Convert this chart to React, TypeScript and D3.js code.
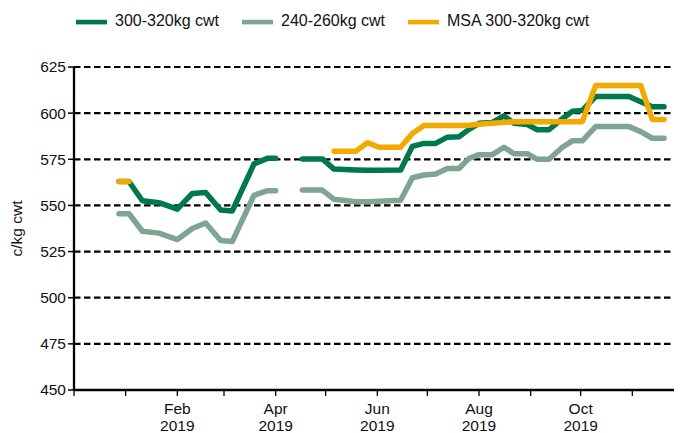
import React from "react";
import * as d3 from "d3";

const dates: string[] = [
  "2018-12-28", "2019-01-03", "2019-01-11", "2019-01-21", "2019-02-01", "2019-02-10",
  "2019-02-18", "2019-02-27", "2019-03-06", "2019-03-19", "2019-03-27", "2019-04-01",
  "2019-04-09", "2019-04-17", "2019-04-29", "2019-05-06", "2019-05-19", "2019-05-26",
  "2019-06-02", "2019-06-15", "2019-06-22", "2019-06-29", "2019-07-06", "2019-07-13",
  "2019-07-20", "2019-07-26", "2019-08-01", "2019-08-09", "2019-08-16", "2019-08-22",
  "2019-08-30", "2019-09-05", "2019-09-12", "2019-09-20", "2019-09-26", "2019-10-02",
  "2019-10-10", "2019-10-17", "2019-10-23", "2019-10-30", "2019-11-06", "2019-11-13",
  "2019-11-20",
];

const heavy: (number | null)[] = [
  563, 563, 552.5, 551.5, 548, 556.5,
  557, 547.5, 547, 572.5, 575.5, 575.5,
  null, 575.2, 575.2, 569.7, 569.2, 569,
  569, 569.2, 582, 583.6, 583.6, 587,
  587.2, 591.2, 594.5, 595, 598.5, 594.5,
  593.8, 591, 591, 597, 601, 601.5,
  609, 609, 609, 609, 606.2, 603.5,
  603.5,
];

const light: (number | null)[] = [
  545.5, 545.5, 536, 535, 531.5, 537.5,
  540.5, 531, 530.5, 555.5, 558, 558,
  null, 558.3, 558.3, 553.3, 552, 552,
  552.3, 552.8, 565, 566.5, 567, 570,
  570, 575.5, 577.5, 577.5, 581.5, 578,
  578, 575, 575, 581.5, 585, 585,
  592.7, 592.7, 592.7, 592.7, 590, 586.4,
  586.4,
];

const msa: (number | null)[] = [
  563, 563, null, null, null, null,
  null, null, null, null, null, null,
  null, null, null, 579.3, 579.3, 584,
  581.5, 581.5, 589, 593.3, 593.3, 593.3,
  593.3, 593.5, 594, 594.5, 595, 595.4,
  595.4, 595.4, 595.4, 595.4, 595.4, 595.4,
  615, 615, 615, 615, 615, 596.6,
  596.6,
];

const seriesNames = ["300-320kg cwt", "240-260kg cwt", "MSA 300-320kg cwt"];
const seriesColors = ["#00794A", "#7FA491", "#F2AA00"];
const yTicks = [450, 475, 500, 525, 550, 575, 600, 625];
const xDomain = ["2018-12-01", "2019-11-26"];
const labelMonths = [1, 3, 5, 7, 9];

const W = 680;
const H = 433;
const M = { left: 74, right: 6, top: 67, bottom: 43 };

export default function App() {
  const parse = d3.utcParse("%Y-%m-%d");
  const x = d3
    .scaleUtc()
    .domain(xDomain.map((d) => parse(d) as Date))
    .range([M.left, W - M.right]);
  const y = d3.scaleLinear().domain([450, 625]).range([H - M.bottom, M.top]);
  const pts = dates.map((d) => parse(d) as Date);
  const all = [heavy, light, msa];

  const line = d3
    .line<number | null>()
    .defined((d) => d != null)
    .x((_, i) => x(pts[i]))
    .y((d) => y(d as number));

  const months = d3.utcMonth.range(parse(xDomain[0]) as Date, parse(xDomain[1]) as Date);
  const font = "Liberation Sans, Arial, sans-serif";

  const legendX = [76, 242, 408];

  return (
    <svg
      width={W}
      height={H}
      style={{ position: "absolute", left: 0, top: 0, background: "#fff" }}
      fontFamily={font}
    >
      {/* legend */}
      {seriesNames.map((n, i) => (
        <g key={n}>
          <rect x={legendX[i]} y={19.8} width={31} height={4.6} fill={seriesColors[i]} />
          <text x={legendX[i] + 39} y={26.3} fontSize={16} fill="#111">
            {n}
          </text>
        </g>
      ))}

      {/* gridlines */}
      {yTicks
        .filter((t) => t !== 450)
        .map((t) => (
          <line
            key={t}
            x1={M.left}
            x2={W - M.right}
            y1={y(t)}
            y2={y(t)}
            stroke="#000"
            strokeWidth={2.2}
            strokeDasharray="6.5,3.5"
          />
        ))}

      {/* y axis */}
      <line x1={M.left} x2={M.left} y1={M.top} y2={H - M.bottom} stroke="#000" strokeWidth={2.3} />
      {yTicks.map((t) => (
        <g key={t}>
          <line x1={M.left - 6} x2={M.left} y1={y(t)} y2={y(t)} stroke="#000" strokeWidth={1.5} />
          <text x={M.left - 8} y={y(t)} dy="0.35em" textAnchor="end" fontSize={15.5} fill="#111">
            {t}
          </text>
        </g>
      ))}
      <text
        transform={`translate(${22},${(M.top + H - M.bottom) / 2}) rotate(-90)`}
        textAnchor="middle"
        fontSize={15.5}
        fill="#111"
      >
        c/kg cwt
      </text>

      {/* x axis */}
      <line x1={M.left} x2={W - M.right} y1={H - M.bottom} y2={H - M.bottom} stroke="#000" strokeWidth={2.5} />
      {months.map((m) => (
        <line
          key={m.toISOString()}
          x1={x(m)}
          x2={x(m)}
          y1={H - M.bottom}
          y2={H - M.bottom + 6}
          stroke="#000"
          strokeWidth={1.3}
        />
      ))}
      {months
        .filter((m) => labelMonths.includes(m.getUTCMonth()))
        .map((m) => (
          <text key={"l" + m.toISOString()} x={x(m)} textAnchor="middle" fontSize={15.5} fill="#111">
            <tspan x={x(m)} y={H - M.bottom + 24}>
              {d3.utcFormat("%b")(m)}
            </tspan>
            <tspan x={x(m)} y={H - M.bottom + 41}>
              {d3.utcFormat("%Y")(m)}
            </tspan>
          </text>
        ))}

      {/* series */}
      {all.map((s, i) => (
        <path
          key={i}
          d={line(s) || ""}
          fill="none"
          stroke={seriesColors[i]}
          strokeWidth={5.5}
          strokeLinecap="round"
          strokeLinejoin="round"
        />
      ))}
    </svg>
  );
}
